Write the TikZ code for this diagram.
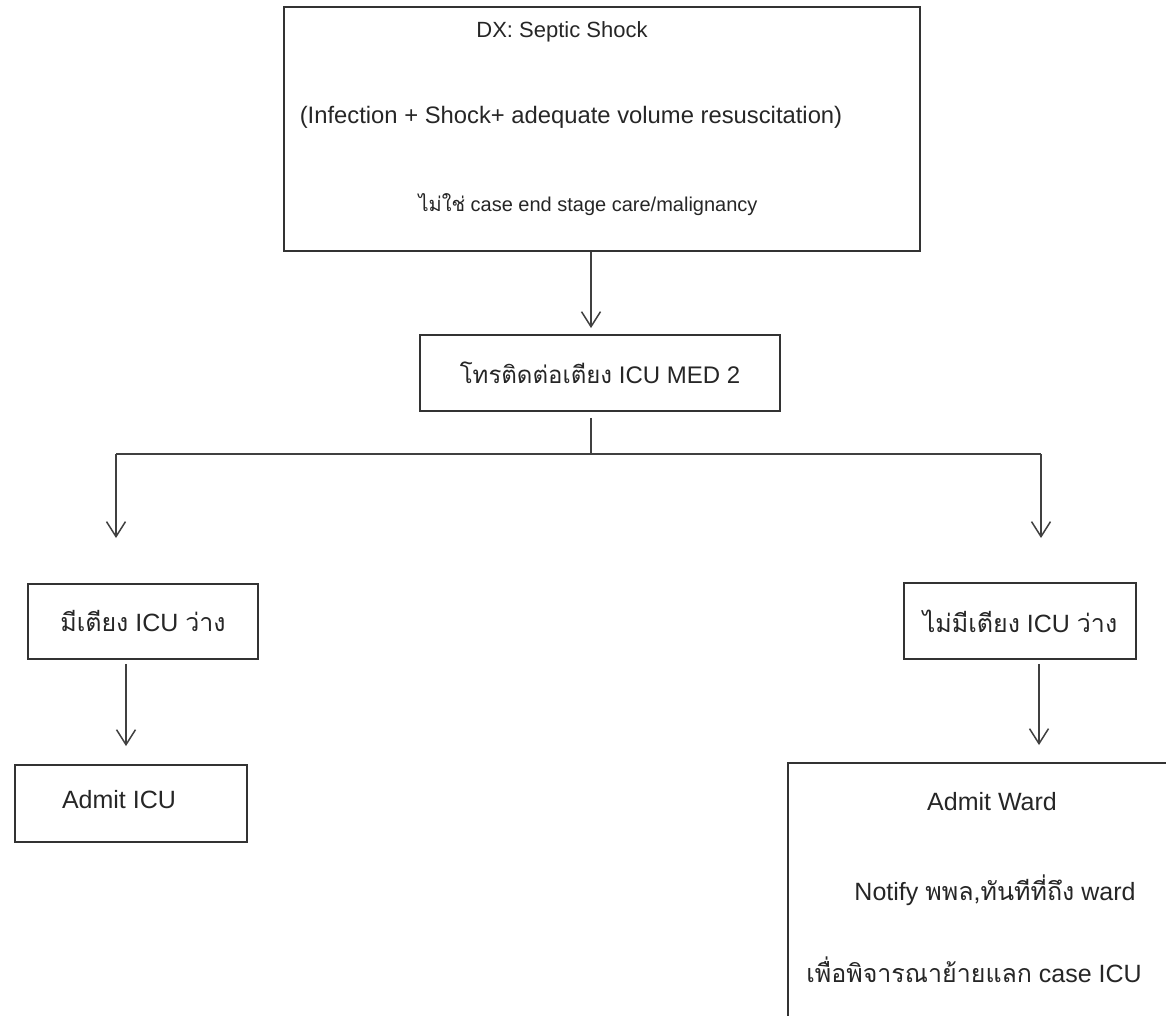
\documentclass[tikz,border=0pt]{standalone}
\usepackage{fontspec}
\setmainfont{Liberation Sans}
\newfontfamily\thai[Script=Thai]{Loma}
\usetikzlibrary{arrows.meta}

\begin{document}
\begin{tikzpicture}[x=1pt,y=-1pt,
  box/.style={draw=black!80, line width=1.9pt, inner sep=0pt, text=black!85},
  link/.style={draw=black!75, line width=1.5pt},
  arr/.style={link, -{Straight Barb[length=15pt,width=19pt,line width=1.5pt]}},
  lbl/.style={text=black!85, inner sep=0pt},
  fsm/.style={font=\fontsize{20}{24}\selectfont},
  fmid/.style={font=\fontsize{22}{26}\selectfont},
  fwide/.style={font=\fontsize{23.8}{28}\selectfont},
  fbox/.style={font=\fontsize{24}{28}\selectfont},
  fbig/.style={font=\fontsize{25}{30}\selectfont},
]
\useasboundingbox (0,0) rectangle (1166,1015);
\clip (0,0) rectangle (1166,1015);

% boxes
\node[box, minimum width=636pt, minimum height=244pt] (dx) at (602,129) {};
\node[box, fbox, minimum width=360pt, minimum height=76pt] (mid) at (600,373)
  {{\thai โทรติดต่อเตียง} ICU MED 2};
\node[box, fbig, minimum width=230pt, minimum height=75pt] (avail) at (143,621.5)
  {{\thai มีเตียง} ICU {\thai ว่าง}};
\node[box, fbig, minimum width=232pt, minimum height=76pt] (noavail) at (1020,621)
  {{\thai ไม่มีเตียง} ICU {\thai ว่าง}};
\node[box, minimum width=232pt, minimum height=77pt] (icu) at (131,803.5) {};
\node[box, minimum width=402pt, minimum height=277pt] (ward) at (989,901.5) {};

% texts inside the large boxes
\node[lbl, fmid] (dx1) at (562,32) {DX: Septic Shock};
\node[lbl, fwide] (dx2) at (571,117) {(Infection + Shock+ adequate volume resuscitation)};
\node[lbl, fsm] (dx3) at (588,205) {{\thai ไม่ใช่} case end stage care/malignancy};
\node[lbl, fbig] (icu1) at (119,800) {Admit ICU};
\node[lbl, fbig] (w1) at (992,802) {Admit Ward};
\node[lbl, fbig] (w2) at (995,890) {Notify {\thai พพล,ทันทีที่ถึง} ward};
\node[lbl, fbig] (w3) at (974,970) {{\thai เพื่อพิจารณาย้ายแลก} case ICU};

% connectors
\coordinate (c1) at (591,0);
\coordinate (j) at (591,454);
\coordinate (jl) at (116,454);
\coordinate (jr) at (1041,454);
\coordinate (tl) at (116,538);
\coordinate (tr) at (1041,538);
\coordinate (c2) at (126,0);
\coordinate (c3) at (1039,0);

\draw[arr, shorten >=6pt] (dx.south -| c1) -- (mid.north -| c1);
\draw[link, shorten <=6pt] (mid.south -| j) -- (j);
\draw[link] (jl) -- (jr);
\draw[arr] (jl) -- (tl);
\draw[arr] (jr) -- (tr);
\draw[arr, shorten <=4pt, shorten >=18pt] (avail.south -| c2) -- (icu.north -| c2);
\draw[arr, shorten <=4pt, shorten >=17pt] (noavail.south -| c3) -- (ward.north -| c3);
\end{tikzpicture}
\end{document}
